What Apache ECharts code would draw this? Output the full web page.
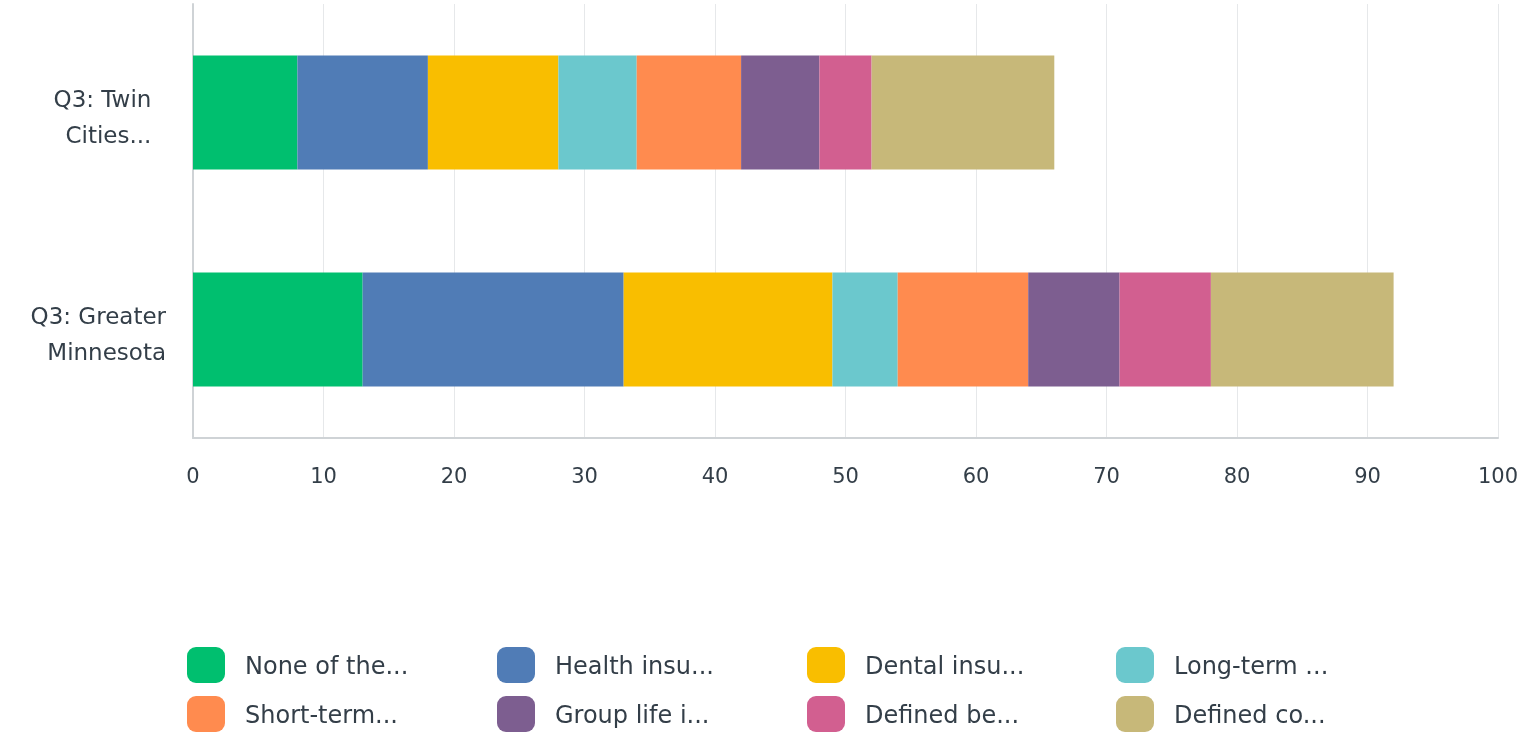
<!DOCTYPE html>
<html>
<head>
<meta charset="utf-8">
<script src="https://cdn.jsdelivr.net/npm/echarts@6/dist/echarts.min.js"></script>
<style>
html,body{margin:0;padding:0;background:#fff;}
#chart{width:1524px;height:733px;}
</style>
</head>
<body>
<div id="chart"></div>
<script>
const categories = ["Q3: Twin  \nCities...  ", "Q3: Greater\nMinnesota"];
const seriesNames = ["None of the...", "Health insu...", "Dental insu...", "Long-term ...",
                     "Short-term...", "Group life i...", "Defined be...", "Defined co..."];
const noneOfThe   = [8, 13];
const healthIns   = [10, 20];
const dentalIns   = [10, 16];
const longTerm    = [6, 5];
const shortTerm   = [8, 10];
const groupLife   = [6, 7];
const definedBen  = [4, 7];
const definedCon  = [14, 14];
const xTicks = [0, 10, 20, 30, 40, 50, 60, 70, 80, 90, 100];

const values = [noneOfThe, healthIns, dentalIns, longTerm, shortTerm, groupLife, definedBen, definedCon];
const colors = ["#00BF6F", "#507CB6", "#F9BE00", "#6BC8CD", "#FF8B4F", "#7D5E90", "#D25F90", "#C7B879"];

const font = "DejaVu Sans";
const textColor = "#333e48";
const legendCols = [187, 497, 807, 1116];
const legendRows = [647, 696];

const legends = seriesNames.map((name, i) => ({
  orient: "horizontal",
  left: legendCols[i % 4],
  top: legendRows[Math.floor(i / 4)],
  padding: 0,
  itemWidth: 38,
  itemHeight: 36,
  icon: "roundRect",
  selectedMode: false,
  data: [name],
  formatter: n => "{s| }\n{t|" + n + "}",
  textStyle: {
    fontFamily: font, fontSize: 24, color: textColor, padding: [0, 0, 0, 15],
    rich: {
      s: { fontSize: 4, lineHeight: 6 },
      t: { fontFamily: font, fontSize: 24, color: textColor, lineHeight: 30 }
    }
  }
}));

const chart = echarts.init(document.getElementById("chart"));
chart.setOption({
  animation: false,
  color: colors,
  grid: { left: 193, right: 26, top: 4, bottom: 295, containLabel: false },
  xAxis: {
    type: "value",
    min: xTicks[0],
    max: xTicks[xTicks.length - 1],
    interval: 10,
    axisLine: { show: true, lineStyle: { color: "#cfd3d6", width: 2 } },
    axisTick: { show: false },
    splitLine: { show: true, lineStyle: { color: "#e6e8ea", width: 1 } },
    axisLabel: { fontFamily: font, fontSize: 21, color: textColor, margin: 29 }
  },
  yAxis: {
    type: "category",
    inverse: true,
    data: categories,
    axisLine: { show: true, lineStyle: { color: "#cfd3d6", width: 2 } },
    axisTick: { show: false },
    axisLabel: {
      margin: 27,
      align: "right",
      formatter: v => "{s| }\n" + v.split("\n").map(l => "{a|" + l + "}").join("\n"),
      rich: {
        s: { fontSize: 4, lineHeight: 14 },
        a: { fontFamily: font, fontSize: 23, color: textColor, lineHeight: 36 }
      }
    }
  },
  legend: legends,
  series: seriesNames.map((name, i) => ({
    name: name,
    type: "bar",
    stack: "total",
    barWidth: "52.5%",
    data: values[i],
    itemStyle: { color: colors[i] }
  }))
});
</script>
</body>
</html>
